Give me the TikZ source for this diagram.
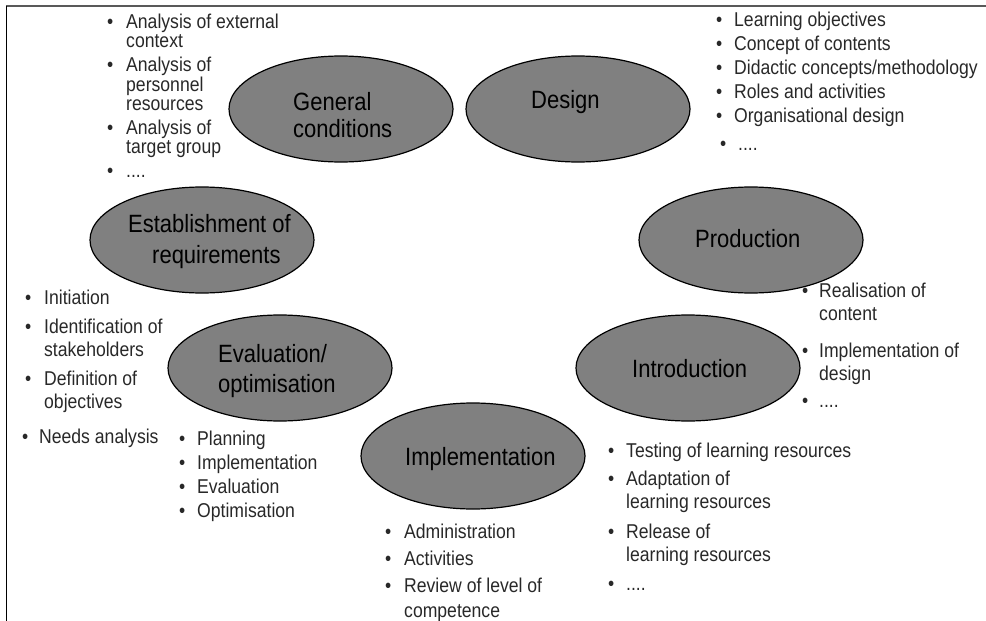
\documentclass[tikz,border=0pt]{standalone}
\usepackage{fontspec}
\setmainfont{Liberation Sans}[FakeStretch=0.88]
\usetikzlibrary{shapes.geometric}
\definecolor{ellgray}{RGB}{128,128,128}
\definecolor{txtgray}{RGB}{40,40,40}
\newcommand\blt[1]{\makebox[#1pt][l]{•}}
\tikzset{
  phase/.style={ellipse, draw=black, line width=1.2pt, fill=ellgray,
    minimum width=224pt, minimum height=106pt, inner sep=0pt},
  ptext/.style={anchor=base west, inner sep=0pt, text=black,
    font=\fontsize{25}{#1}\selectfont},
  ptext/.default=27,
  lst/.style={anchor=base west, inner sep=0pt, text=txtgray,
    font=\fontsize{20}{#1}\selectfont},
  lst/.default=19,
  frameline/.style={line width=1.2pt}
}
\begin{document}
\begin{tikzpicture}[x=1pt,y=-1pt]
\useasboundingbox (0,0) rectangle (986,621);
% frame
\coordinate (fc) at (6,6);
\coordinate (ftr) at (986,6);
\coordinate (fbl) at (6,621);
\draw[frameline, draw=black!65] (fc) -- (ftr);
\draw[line width=1pt, draw=black] (fc) -- (fbl);

% ellipses
\node[phase] (gc) at (341,109) {};
\node[phase] (de) at (578,109) {};
\node[phase] (er) at (202,240) {};
\node[phase] (pr) at (751,240) {};
\node[phase] (ev) at (280,368) {};
\node[phase] (in) at (688,368) {};
\node[phase] (im) at (473,456) {};

% ellipse labels
\node[ptext=27] (gct) at (293,110) {\begin{tabular}[t]{@{}l@{}}General\\conditions\end{tabular}};
\node[ptext] (det) at (531,108) {Design};
\node[ptext=31] (ert) at (128,232) {\begin{tabular}[t]{@{}l@{}}Establishment of\\\hspace*{24pt}requirements\end{tabular}};
\node[ptext] (prt) at (695,247) {Production};
\node[ptext=30] (evt) at (218,362) {\begin{tabular}[t]{@{}l@{}}Evaluation/\\optimisation\end{tabular}};
\node[ptext] (int) at (632,377) {Introduction};
\node[ptext] (imt) at (405,465) {Implementation};

% lists
\node[lst=19] (l1) at (107,28) {\begin{tabular}[t]{@{}l@{}l@{}}
\blt{19} & Analysis of external\\
 & context\\[4pt]
\blt{19} & Analysis of\\
 & personnel\\
 & resources\\[4pt]
\blt{19} & Analysis of\\
 & target group\\[5pt]
\blt{19} & ....
\end{tabular}};

\node[lst=23.8] (l2) at (716,27) {\begin{tabular}[t]{@{}l@{}l@{}}
\blt{18} & Learning objectives\\
\blt{18} & Concept of contents\\
\blt{18} & Didactic concepts/methodology\\
\blt{18} & Roles and activities\\
\blt{18} & Organisational design
\end{tabular}};
\node[lst] (l2b) at (720,150) {\blt{18}....};

\node[lst=23] (l3) at (25,304) {\begin{tabular}[t]{@{}l@{}l@{}}
\blt{19} & Initiation\\[6pt]
\blt{19} & Identification of\\
 & stakeholders\\[6pt]
\blt{19} & Definition of\\
 & objectives
\end{tabular}};
\node[lst] (l3b) at (22,443) {\blt{17}Needs analysis};

\node[lst=24] (l4) at (179,445) {\begin{tabular}[t]{@{}l@{}l@{}}
\blt{18} & Planning\\
\blt{18} & Implementation\\
\blt{18} & Evaluation\\
\blt{18} & Optimisation
\end{tabular}};

\node[lst=25] (l5) at (385,538) {\begin{tabular}[t]{@{}l@{}l@{}}
\blt{19} & Administration\\[2pt]
\blt{19} & Activities\\[2pt]
\blt{19} & Review of level of\\
 & competence
\end{tabular}};

\node[lst=23] (l6) at (608,457) {\begin{tabular}[t]{@{}l@{}l@{}}
\blt{18} & Testing of learning resources\\[5pt]
\blt{18} & Adaptation of\\
 & learning resources\\[7pt]
\blt{18} & Release of\\
 & learning resources\\[6pt]
\blt{18} & ....
\end{tabular}};

\node[lst=23] (l7) at (802,297) {\begin{tabular}[t]{@{}l@{}l@{}}
\blt{17} & Realisation of\\
 & content\\[14pt]
\blt{17} & Implementation of\\
 & design\\[4pt]
\blt{17} & ....
\end{tabular}};
\end{tikzpicture}
\end{document}
